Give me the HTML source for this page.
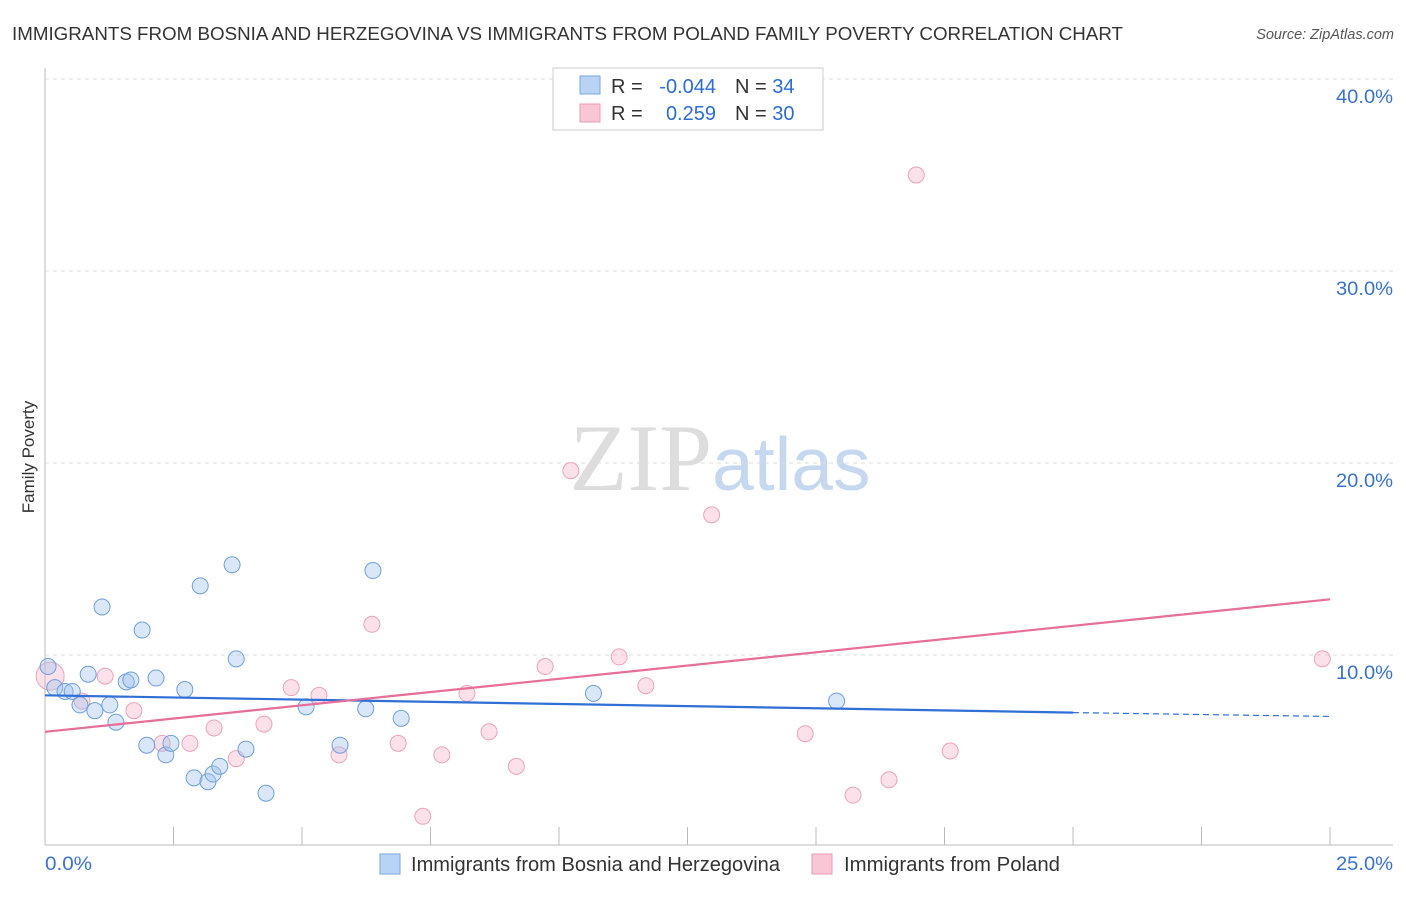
<!DOCTYPE html>
<html><head><meta charset="utf-8"><style>
body{margin:0;background:#fff;font-family:"Liberation Sans",sans-serif;}
svg text{font-family:"Liberation Sans",sans-serif;}
</style></head><body>
<svg id="chart" width="1406" height="892" xmlns="http://www.w3.org/2000/svg">
<text x="12" y="40" font-size="18" fill="#333" textLength="1111" lengthAdjust="spacingAndGlyphs">IMMIGRANTS FROM BOSNIA AND HERZEGOVINA VS IMMIGRANTS FROM POLAND FAMILY POVERTY CORRELATION CHART</text>
<text x="1394" y="39" font-size="14.5" fill="#555" font-style="italic" text-anchor="end">Source: ZipAtlas.com</text>
<text x="720" y="490" font-size="95" text-anchor="middle"><tspan fill="#ddd" font-family="Liberation Serif">ZIP</tspan><tspan fill="#c5d8ef" font-size="75">atlas</tspan></text>
<text transform="translate(34,457) rotate(-90)" font-size="17" fill="#333" text-anchor="middle">Family Poverty</text>
<g id="grid"></g>
<g id="axes"></g>
<g id="marks"></g>
<g>
<rect x="553" y="68" width="270" height="62" fill="#fff" stroke="#ccc"/>
<rect x="580" y="76" width="20" height="18" fill="#b9d3f5" stroke="#7aa7e0"/>
<rect x="580" y="104" width="20" height="18" fill="#f9c6d5" stroke="#eb9ab5"/>
<text x="611" y="93" font-size="20" fill="#333">R = </text><text x="716" y="93" font-size="20" fill="#2d6cd0" text-anchor="end">-0.044</text>
<text x="735" y="93" font-size="20" fill="#333">N = <tspan fill="#2d6cd0">34</tspan></text>
<text x="611" y="120" font-size="20" fill="#333">R = </text><text x="716" y="120" font-size="20" fill="#2d6cd0" text-anchor="end">0.259</text>
<text x="735" y="120" font-size="20" fill="#333">N = <tspan fill="#2d6cd0">30</tspan></text>
</g>
<g>
<rect x="380" y="854" width="20" height="20" fill="#b9d3f5" stroke="#7aa7e0"/>
<text x="411" y="871" font-size="20" fill="#333" textLength="369" lengthAdjust="spacingAndGlyphs">Immigrants from Bosnia and Herzegovina</text>
<rect x="812" y="854" width="20" height="20" fill="#f9c6d5" stroke="#eb9ab5"/>
<text x="844" y="871" font-size="20" fill="#333" textLength="216" lengthAdjust="spacingAndGlyphs">Immigrants from Poland</text>
</g>
</svg>
<script>
const xTicks=[0,2.5,5,7.5,10,12.5,15,17.5,20,22.5,25];
const yTicks=[10,20,30,40];
const yTickLabels=["10.0%","20.0%","30.0%","40.0%"];
const bosniaX=[0.06,0.19,0.39,0.53,0.68,0.84,0.97,1.11,1.26,1.38,1.58,1.67,1.89,1.98,2.16,2.35,2.45,2.72,2.90,3.02,3.17,3.27,3.40,3.64,3.72,3.91,4.30,5.08,5.74,6.24,6.38,6.93,10.67,15.40];
const bosniaY=[9.4,8.3,8.1,8.1,7.4,9.0,7.1,12.5,7.4,6.5,8.6,8.7,11.3,5.3,8.8,4.8,5.4,8.2,3.6,13.6,3.4,3.8,4.2,14.7,9.8,5.1,2.8,7.3,5.3,7.2,14.4,6.7,8.0,7.6];
const polandX=[0.10,0.72,1.17,1.73,2.28,2.82,3.29,3.72,4.26,4.79,5.33,5.72,6.36,6.87,7.35,7.72,8.21,8.64,9.17,9.73,10.23,11.17,11.69,12.97,14.79,15.72,16.42,16.95,17.61,24.85];
const polandY=[8.9,7.6,8.9,7.1,5.4,5.4,6.2,4.6,6.4,8.3,7.9,4.8,11.6,5.4,1.6,4.8,8.0,6.0,4.2,9.4,19.6,9.9,8.4,17.3,5.9,2.7,3.5,35.0,5.0,9.8];
const bosniaTrend=[7.9,7.0,6.8];
const polandTrend=[6.0,12.9];
const X=v=>45+v*51.4, Y=v=>847-v*19.2;
const NS="http://www.w3.org/2000/svg";
function mk(tag,attrs,parent){const e=document.createElementNS(NS,tag);for(const k in attrs)e.setAttribute(k,attrs[k]);document.getElementById(parent).appendChild(e);return e;}
yTicks.forEach((t,i)=>{
 const g=mk('line',{x1:45,x2:1393,y1:Y(t),y2:Y(t),stroke:'#ddd','stroke-dasharray':'4,4'},'grid');
 
 
 const l=mk('text',{x:1393,y:Y(t)+24,'font-size':19,fill:'#3a72cc','text-anchor':'end',textLength:57,lengthAdjust:'spacingAndGlyphs'},'grid');
 l.textContent=yTickLabels[i];
 
 
});
const ax=mk('line',{x1:45,x2:1393,y1:845,y2:845,stroke:'#bbb'},'axes');


const ay=mk('line',{x1:45,x2:45,y1:68,y2:845,stroke:'#bbb'},'axes');


xTicks.forEach(t=>{
 const tk=mk('line',{x1:X(t),x2:X(t),y1:827,y2:845,stroke:'#bbb'},'axes');
 
 
});
const l0=mk('text',{x:45,y:870,'font-size':19,fill:'#3a72cc',textLength:47,lengthAdjust:'spacingAndGlyphs'},'axes');l0.textContent='0.0%';


const l1=mk('text',{x:1393,y:870,'font-size':19,fill:'#3a72cc','text-anchor':'end',textLength:57,lengthAdjust:'spacingAndGlyphs'},'axes');l1.textContent='25.0%';


polandX.forEach((x,i)=>{
 const c=mk('circle',{cx:X(x),cy:Y(polandY[i]),r:i==0?14:8,fill:'rgba(245,170,195,0.35)',stroke:'#eba3ba','stroke-width':1},'marks');
 
 
});
bosniaX.forEach((x,i)=>{
 const c=mk('circle',{cx:X(x),cy:Y(bosniaY[i]),r:8,fill:'rgba(160,195,240,0.4)',stroke:'#6e9fdc','stroke-width':1},'marks');
 
 
});
const bt=mk('line',{x1:X(0),y1:Y(bosniaTrend[0]),x2:X(20),y2:Y(bosniaTrend[1]),stroke:'#2f6fd6','stroke-width':2.2},'marks');


const bd=mk('line',{x1:X(20),y1:Y(bosniaTrend[1]),x2:X(25),y2:Y(bosniaTrend[2]),stroke:'#2f6fd6','stroke-width':1.2,'stroke-dasharray':'6,4'},'marks');


const pt=mk('line',{x1:X(0),y1:Y(polandTrend[0]),x2:X(25),y2:Y(polandTrend[1]),stroke:'#e66e98','stroke-width':2.2},'marks');


</script>
</body></html>
